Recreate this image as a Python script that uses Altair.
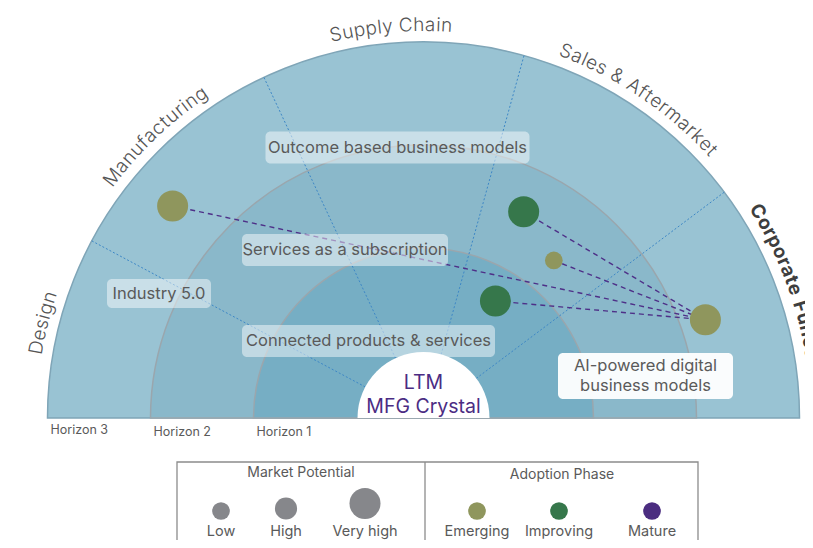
import math
import altair as alt
import pandas as pd

# ---------------- data ----------------
functions = ["Design", "Manufacturing", "Supply Chain", "Sales & Aftermarket", "Corporate Functions"]
function_mid_angle = [166.0, 133.6, 94.8, 56.0, 18.0]      # degrees, CCW from the right
spoke_angles = [151.9, 115.1, 74.5, 36.9]
horizons = ["Horizon 3", "Horizon 2", "Horizon 1"]

bubble_angle = [139.8, 64.1, 50.4, 58.4, 19.2]
bubble_horizon_pos = [2.54, 1.58, 1.34, 0.69, 2.25]        # 0 = core edge, 3 = outer edge
bubble_potential = ["Very high", "Very high", "Low", "Very high", "Very high"]
bubble_phase = ["Emerging", "Improving", "Emerging", "Improving", "Emerging"]
link_target = 4                                             # all links go to bubble #5

themes = ["Outcome based business models", "Services as a subscription", "Industry 5.0",
          "Connected products & services", "AI-powered digital\nbusiness models"]

potentials = ["Low", "High", "Very high"]
phases = ["Emerging", "Improving", "Mature"]

# ---------------- layout / style ----------------
W, H = 797, 532
OFF = 8
CX, CY = 423.5, 418.0
R_OUT, R_H2, R_H1, R_CORE = 376, 273, 170, 66
ring_radii = [R_OUT, R_H2, R_H1]
ring_fill = ["#99c3d3", "#8ab8ca", "#76aec4"]
phase_colors = ["#8f965d", "#36774b", "#4b2d80"]
size_area = {"Low": 314, "High": 491, "Very high": 962}
FONT = "Inter"
TXT = "#5a5a5a"

def px(X):
    return X - OFF

def py(Y):
    return Y - OFF

def polar(angle_deg, r):
    a = math.radians(angle_deg)
    return CX + r * math.cos(a), CY - r * math.sin(a)

def hpos_to_r(v):
    return R_CORE + v * (R_OUT - R_CORE) / 3.0

xs = alt.Scale(domain=[0, W], nice=False, zero=False)
ys = alt.Scale(domain=[0, H], nice=False, zero=False, reverse=True)

def X(f="x"):
    return alt.X(f"{f}:Q", scale=xs, axis=None)

def Y(f="y"):
    return alt.Y(f"{f}:Q", scale=ys, axis=None)

layers = []

# rings
center_df = pd.DataFrame({"x": [px(CX)], "y": [py(CY)]})
for r, fc in zip(ring_radii, ring_fill):
    stroke = "#7fa5b7" if r == R_OUT else "#9aa6ad"
    layers.append(alt.Chart(center_df).mark_arc(
        fill=fc, stroke=stroke, strokeWidth=1.5, radius=r,
        theta=4.712389, theta2=7.853982).encode(x=X(), y=Y()))

# spokes
sp_rows = []
for a in spoke_angles:
    x1, y1 = polar(a, R_CORE)
    x2, y2 = polar(a, R_OUT)
    sp_rows.append({"x": px(x1), "y": py(y1), "x2": px(x2), "y2": py(y2)})
layers.append(alt.Chart(pd.DataFrame(sp_rows)).mark_rule(
    color="#3d87c6", strokeWidth=1, strokeDash=[2, 2]).encode(
    x=X(), y=Y(), x2="x2:Q", y2="y2:Q"))

# white core
layers.append(alt.Chart(center_df).mark_arc(
    fill="white", radius=R_CORE, theta=4.712389, theta2=7.853982).encode(x=X(), y=Y()))

# bubbles
b_rows = []
for a, v, pot, ph in zip(bubble_angle, bubble_horizon_pos, bubble_potential, bubble_phase):
    bx, by = polar(a, hpos_to_r(v))
    b_rows.append({"x": px(bx), "y": py(by), "potential": pot, "phase": ph,
                   "area": size_area[pot]})
bdf = pd.DataFrame(b_rows)

l_rows = []
t = b_rows[link_target]
for i, b in enumerate(b_rows):
    if i == link_target:
        continue
    l_rows.append({"x": b["x"], "y": b["y"], "x2": t["x"], "y2": t["y"]})
layers.append(alt.Chart(pd.DataFrame(l_rows)).mark_rule(
    color="#4e3088", strokeWidth=1.4, strokeDash=[5, 4]).encode(
    x=X(), y=Y(), x2="x2:Q", y2="y2:Q"))

color_enc = alt.Color("phase:N", scale=alt.Scale(domain=phases, range=phase_colors), legend=None)
size_enc = alt.Size("area:Q", scale=None, legend=None)
layers.append(alt.Chart(bdf).mark_circle(opacity=1).encode(
    x=X(), y=Y(), color=color_enc, size=size_enc))

# theme boxes + labels
theme_center = [(397.5, 147.5), (345, 250), (159, 293.5), (368.5, 341), (645.5, 376)]
theme_box = [(264, 32), (206, 32), (104, 29), (253, 32), (175, 46)]
box_rows, txt_rows = [], []
for name, (cx, cy), (bw, bh) in zip(themes, theme_center, theme_box):
    opaque = "\n" in name
    box_rows.append({"x": px(cx - bw / 2), "x2": px(cx + bw / 2),
                     "y": py(cy - bh / 2), "y2": py(cy + bh / 2),
                     "op": 0.95 if opaque else 0.47})
    lines = name.split("\n")
    for k, ln in enumerate(lines):
        dy = (k - (len(lines) - 1) / 2) * 20
        txt_rows.append({"x": px(cx), "y": py(cy + dy), "t": ln})
layers.append(alt.Chart(pd.DataFrame(box_rows)).mark_rect(
    fill="white", cornerRadius=5).encode(
    x=X(), y=Y(), x2="x2:Q", y2="y2:Q",
    fillOpacity=alt.FillOpacity("op:Q", scale=None)))
layers.append(alt.Chart(pd.DataFrame(txt_rows)).mark_text(
    font=FONT, fontSize=16.5, color=TXT, align="center", baseline="middle").encode(
    x=X(), y=Y(), text="t:N"))

# centre text
layers.append(alt.Chart(pd.DataFrame({"x": [px(CX), px(CX)], "y": [py(383), py(407)],
                                      "t": ["LTM", "MFG Crystal"]})).mark_text(
    font=FONT, fontSize=19.5, color="#4b2c83", align="center", baseline="middle").encode(
    x=X(), y=Y(), text="t:N"))

# horizon labels
layers.append(alt.Chart(pd.DataFrame({
    "x": [px(CX - r + 3) for r in ring_radii],
    "y": [py(430), py(432), py(432)], "t": horizons})).mark_text(
    font=FONT, fontSize=12.5, color=TXT, align="left", baseline="middle").encode(
    x=X(), y=Y(), text="t:N"))

# curved function labels
CW = {"A": .69, "C": .71, "D": .72, "F": .58, "M": .86, "S": .64,
      "a": .55, "c": .53, "d": .58, "e": .55, "f": .34, "g": .58, "h": .57, "i": .23,
      "k": .52, "l": .23, "m": .86, "n": .57, "o": .57, "p": .58, "r": .36, "s": .51,
      "t": .34, "u": .57, "y": .52, " ": .27, "&": .64}
R_LAB = 393
ch_rows = []
for name, mid in zip(functions, function_mid_angle):
    bold = name.startswith("Corporate")
    size = 19
    ls = 0.8
    ws = [CW.get(c, .55) * size * (1.06 if bold else 1.0) + ls for c in name]
    total = sum(ws)
    cum = 0
    for c, w in zip(name, ws):
        off = cum + w / 2 - total / 2
        ang = mid - math.degrees(off / R_LAB)
        cx, cy = polar(ang, R_LAB)
        ch_rows.append({"x": px(cx), "y": py(cy), "c": c, "rot": (90 - ang) % 360,
                        "bold": bold})
        cum += w
chdf = pd.DataFrame(ch_rows)
layers.append(alt.Chart(chdf[~chdf["bold"]]).mark_text(
    font=FONT, fontSize=19, fontWeight=300, color="#555555", align="center",
    baseline="middle").encode(
    x=X(), y=Y(), text="c:N", angle=alt.Angle("rot:Q", scale=None)))
layers.append(alt.Chart(chdf[chdf["bold"]]).mark_text(
    font=FONT, fontSize=19, fontWeight="bold", color="#3e3e3e", align="center",
    baseline="middle").encode(
    x=X(), y=Y(), text="c:N", angle=alt.Angle("rot:Q", scale=None)))

# ---------------- legend ----------------
LEG_L, LEG_R, LEG_DIV, LEG_T = 177, 698, 425, 462
layers.append(alt.Chart(pd.DataFrame({"x": [px(LEG_L)], "x2": [px(LEG_R)],
                                      "y": [py(LEG_T)], "y2": [py(575)]})).mark_rect(
    fillOpacity=0, stroke="#8c8c8c", strokeWidth=1.3).encode(
    x=X(), y=Y(), x2="x2:Q", y2="y2:Q"))
layers.append(alt.Chart(pd.DataFrame({"x": [px(LEG_DIV)], "y": [py(LEG_T)],
                                      "y2": [py(575)]})).mark_rule(
    color="#8c8c8c", strokeWidth=1.3).encode(x=X(), y=Y(), y2="y2:Q"))
layers.append(alt.Chart(pd.DataFrame({"x": [px(301), px(562)], "y": [py(473), py(475)],
                                      "t": ["Market Potential", "Adoption Phase"]})).mark_text(
    font=FONT, fontSize=14, color=TXT, align="center", baseline="middle").encode(
    x=X(), y=Y(), text="t:N"))

LEG_CIRC_BOTTOM, LEG_LAB_Y = 521, 532
size_x = [221, 286, 365]
sz_rows = []
for p, xx in zip(potentials, size_x):
    rr = math.sqrt(size_area[p] / math.pi)
    sz_rows.append({"x": px(xx), "y": py(LEG_CIRC_BOTTOM - rr), "potential": p,
                    "area": size_area[p], "ly": py(LEG_LAB_Y)})
szdf = pd.DataFrame(sz_rows)
layers.append(alt.Chart(szdf).mark_circle(opacity=1, color="#86878b").encode(
    x=X(), y=Y(), size=size_enc))
layers.append(alt.Chart(szdf).mark_text(
    font=FONT, fontSize=14.5, color=TXT, align="center", baseline="middle").encode(
    x=X(), y=Y("ly"), text="potential:N"))

ph_x = [477, 559, 652]
rr_low = math.sqrt(size_area["Low"] / math.pi)
phdf = pd.DataFrame({"x": [px(v) for v in ph_x], "y": [py(LEG_CIRC_BOTTOM - rr_low)] * 3,
                     "phase": phases, "ly": [py(LEG_LAB_Y)] * 3})
layers.append(alt.Chart(phdf).mark_circle(opacity=1, size=size_area["Low"]).encode(
    x=X(), y=Y(), color=color_enc))
layers.append(alt.Chart(phdf).mark_text(
    font=FONT, fontSize=14.5, color=TXT, align="center", baseline="middle").encode(
    x=X(), y=Y("ly"), text="phase:N"))

chart = alt.layer(*layers).properties(
    width=W, height=H, autosize=alt.AutoSizeParams(type="none"), padding=0,
    background="white").configure_view(stroke=None)

chart.save("out.html", embed_options={"renderer": "svg", "actions": False})
